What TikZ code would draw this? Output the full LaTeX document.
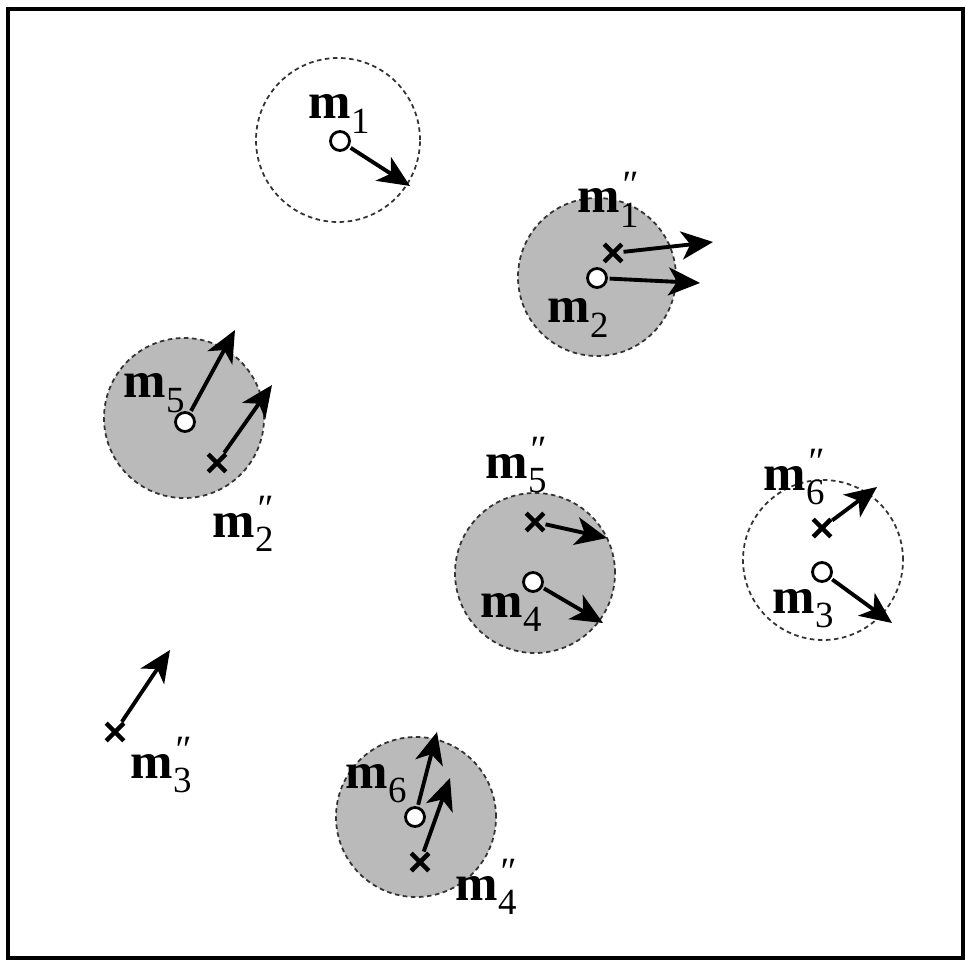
\documentclass[tikz,border=0pt]{standalone}
\usepackage{fontspec}
\setmainfont{Liberation Serif}
\usetikzlibrary{arrows.meta,shapes.misc}

% labels m_i and m_i''
\newcommand{\msub}[1]{\textbf{m}\raisebox{-4pt}{\fontsize{10.5}{10.5}\selectfont #1}}
\newcommand{\mdd}[1]{\textbf{m}\rlap{\raisebox{4.5pt}{\fontsize{11}{11}\selectfont\itshape ″}}\raisebox{-4pt}{\fontsize{10.5}{10.5}\selectfont #1}}

\begin{document}
\begin{tikzpicture}[x=1cm, y=1cm,
	zone/.style={draw=black!80, line width=0.5pt, dash pattern=on 1.3pt off 1pt},
	busy/.style={zone, fill=black!27},
	vec/.style={-{Stealth[length=9pt,width=8pt,inset=2.5pt]}, line width=1.1pt, shorten <=0.5pt},
	opt/.style={circle, draw, fill=white, line width=0.8pt, minimum size=0.19cm, inner sep=0pt},
	xmark/.style={cross out, draw, line width=1.3pt, minimum size=0.13cm, inner sep=0pt},
	lab/.style={anchor=base west, inner sep=0pt, font=\fontsize{14.5}{16}\selectfont}]
	\useasboundingbox (0,0) rectangle (9.65,9.61);
	% ==================== frame ====================
	\draw[line width=1.3pt] (0.08,0.03) rectangle (9.63,9.52);
	
	% ==================== regions ====================
	\draw[zone] (3.38,8.21) circle (0.82);
	\fill[busy] (5.97,6.84) circle (0.79);
	\fill[busy] (1.84,5.43) circle (0.80);
	\fill[busy] (5.35,3.88) circle (0.80);
	\draw[zone] (8.23,4.01) circle (0.80);
	\fill[busy] (4.16,1.44) circle (0.80);
	
	% ==================== points m_i (circles) ====================
	\node[opt] (o1) at (3.40,8.20) {};
	\node[opt] (o2) at (5.97,6.83) {};
	\node[opt] (o3) at (8.22,3.89) {};
	\node[opt] (o4) at (5.33,3.79) {};
	\node[opt] (o5) at (1.85,5.39) {};
	\node[opt] (o6) at (4.15,1.44) {};
	
	% ==================== points m_i'' (crosses) ====================
	\node[xmark] (x1) at (6.13,7.08) {};
	\node[xmark] (x2) at (2.17,4.98) {};
	\node[xmark] (x3) at (1.15,2.29) {};
	\node[xmark] (x4) at (4.20,0.99) {};
	\node[xmark] (x5) at (5.35,4.39) {};
	\node[xmark] (x6) at (8.22,4.33) {};
	
	% arrow tips
	\coordinate (to1) at (4.10,7.75);
	\coordinate (to2) at (7.00,6.78);
	\coordinate (to3) at (8.92,3.38);
	\coordinate (to4) at (6.03,3.38);
	\coordinate (to5) at (2.35,6.31);
	\coordinate (to6) at (4.37,2.29);
	\coordinate (tx1) at (7.13,7.19);
	\coordinate (tx2) at (2.72,5.76);
	\coordinate (tx3) at (1.70,3.11);
	\coordinate (tx4) at (4.50,1.83);
	\coordinate (tx5) at (6.07,4.23);
	\coordinate (tx6) at (8.77,4.74);
	
	% ==================== moves ====================
	\foreach \i in {1,...,6} {
		\draw[vec] (o\i) -- (to\i);
		\draw[vec] (x\i) -- (tx\i);
	}
	
	% ==================== labels ====================
	\node[lab] (l1) at (3.08,8.42) {\msub{1}};
	\node[lab] (l2) at (5.47,6.38) {\msub{2}};
	\node[lab] (l3) at (7.72,3.48) {\msub{3}};
	\node[lab] (l4) at (4.80,3.44) {\msub{4}};
	\node[lab] (l5) at (1.23,5.63) {\msub{5}};
	\node[lab] (l6) at (3.45,1.73) {\msub{6}};
	\node[lab] (k1) at (5.77,7.48) {\mdd{1}};
	\node[lab] (k2) at (2.12,4.24) {\mdd{2}};
	\node[lab] (k3) at (1.30,1.83) {\mdd{3}};
	\node[lab] (k4) at (4.55,0.61) {\mdd{4}};
	\node[lab] (k5) at (4.85,4.83) {\mdd{5}};
	\node[lab] (k6) at (7.63,4.71) {\mdd{6}};
\end{tikzpicture}
\end{document}
